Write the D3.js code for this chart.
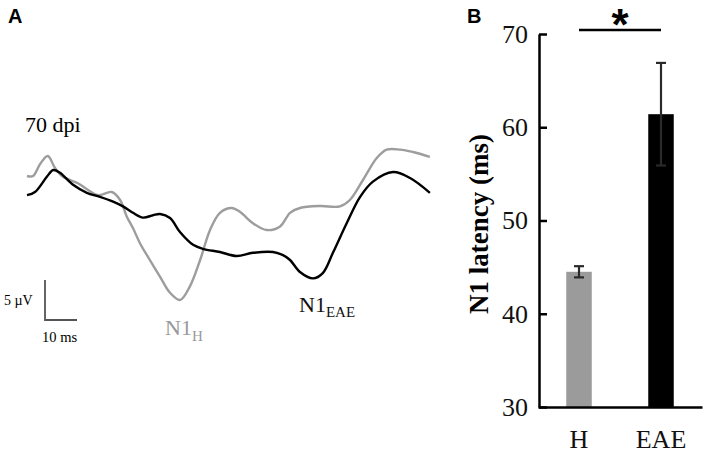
<!DOCTYPE html>
<html>
<head>
<meta charset="utf-8">
<script src="https://cdn.jsdelivr.net/npm/d3@7"></script>
<style>
  body { margin: 0; background: #fff; }
  svg { display: block; }
  .serif { font-family: "Liberation Serif", "Times New Roman", serif; }
</style>
</head>
<body>
<div id="chart"></div>
<script>
var width = 709;
var height = 454;

// Panel A: averaged VEP traces, [time (ms), amplitude (µV)]
var healthyTrace = [
  [0, 3.0], [1.9, 3.0], [4.1, 4.5], [6.5, 5.5], [8.75, 4.0], [11.25, 2.9],
  [15.9, 2.1], [19.1, 1.25], [22.2, 0.6], [26.5, 1.0], [29.1, 0], [31.2, -2.1],
  [33.1, -3.5], [35.3, -5.4], [38.4, -7.5], [41.6, -9.6], [44.7, -11.6],
  [47.8, -12.5], [50.9, -10.8], [54.1, -7.5], [57.2, -3.75], [60.3, -1.6],
  [64.0, -1.0], [66.6, -1.5], [70.6, -2.9], [74.9, -3.75], [79.1, -3.3],
  [82.2, -1.6], [85.3, -1.0], [91.6, -0.75], [97.8, -0.8], [100.9, 0],
  [105, 2.5], [109.3, 5.25], [112.4, 6.3], [116.6, 6.3], [120.6, 6.0], [125.9, 5.4]
];
var eaeTrace = [
  [0, 0.6], [2.5, 1.0], [6.2, 2.9], [8.2, 3.75], [10.3, 3.4], [14.4, 1.9],
  [18.7, 0.9], [22.8, 0.4], [26.9, -0.2], [30, -0.8], [33.1, -1.6], [36.25, -2.2],
  [39.4, -1.9], [41.6, -1.75], [44.7, -2.25], [47.8, -4.0], [51.9, -5.6],
  [55, -6.1], [60.3, -6.5], [65.5, -7.0], [70.6, -6.6], [76.9, -6.5], [80, -6.9],
  [82.2, -7.5], [85.3, -9.0], [89.4, -9.8], [92.5, -9.1], [95.6, -6.6],
  [99.9, -2.9], [104.1, 0.4], [108.1, 2.3], [114.4, 3.5], [119.7, 2.75], [125.9, 0.9]
];
var scaleBarMs = 10;
var scaleBarUv = 5;

// Panel B: N1 latency
var groups = ["H", "EAE"];
var latencyMean = [44.5, 61.4];
var latencyErr = [0.6, 5.5];
var latencyTicks = [30, 40, 50, 60, 70];

var svg = d3.select("#chart")
  .append("svg")
  .attr("width", width)
  .attr("height", height);

svg.append("rect")
  .attr("width", width)
  .attr("height", height)
  .attr("fill", "#fff");

// ---------- Panel A ----------
var xA = d3.scaleLinear().domain([0, 126]).range([27, 430.2]);
var yA = d3.scaleLinear().domain([-10, 10]).range([280, 120]);

var line = d3.line()
  .x(d => xA(d[0]))
  .y(d => yA(d[1]))
  .curve(d3.curveCatmullRom.alpha(0.5));

svg.append("path")
  .datum(healthyTrace)
  .attr("d", line)
  .attr("fill", "none")
  .attr("stroke", "#9d9d9d")
  .attr("stroke-width", 2.4);

svg.append("path")
  .datum(eaeTrace)
  .attr("d", line)
  .attr("fill", "none")
  .attr("stroke", "#000")
  .attr("stroke-width", 2.4);

svg.append("text")
  .attr("x", 8)
  .attr("y", 22.5)
  .attr("font-family", "Liberation Sans, Arial, sans-serif")
  .attr("font-weight", "bold")
  .attr("font-size", 20)
  .text("A");

svg.append("text")
  .attr("class", "serif")
  .attr("x", 25)
  .attr("y", 132)
  .attr("font-size", 22)
  .text("70 dpi");

// scale bar
var sbX = 45, sbY = 320;
var sbW = xA(scaleBarMs) - xA(0);
var sbH = yA(0) - yA(scaleBarUv);
svg.append("path")
  .attr("d", `M${sbX},${sbY - sbH}V${sbY}H${sbX + sbW}`)
  .attr("fill", "none")
  .attr("stroke", "#555")
  .attr("stroke-width", 1.8);

svg.append("text")
  .attr("class", "serif")
  .attr("x", 4)
  .attr("y", 305)
  .attr("font-size", 14)
  .text("5 \u00b5V");

svg.append("text")
  .attr("class", "serif")
  .attr("x", 42)
  .attr("y", 342)
  .attr("font-size", 14.5)
  .text("10 ms");

// peak labels
var n1h = svg.append("text")
  .attr("class", "serif")
  .attr("x", 165)
  .attr("y", 335)
  .attr("font-size", 22)
  .attr("fill", "#999");
n1h.append("tspan").text("N1");
n1h.append("tspan").attr("font-size", 15).attr("dy", 6).text("H");

var n1e = svg.append("text")
  .attr("class", "serif")
  .attr("x", 299)
  .attr("y", 311.5)
  .attr("font-size", 22)
  .attr("fill", "#111");
n1e.append("tspan").text("N1");
n1e.append("tspan").attr("font-size", 15).attr("dy", 5).text("EAE");

// ---------- Panel B ----------
var yB = d3.scaleLinear().domain([30, 70]).range([407, 34]);
var xB = d3.scaleBand()
  .domain(groups)
  .range([538, 702])
  .paddingInner(0.689)
  .paddingOuter(0.3445);

svg.append("text")
  .attr("x", 467)
  .attr("y", 22.5)
  .attr("font-family", "Liberation Sans, Arial, sans-serif")
  .attr("font-weight", "bold")
  .attr("font-size", 20)
  .text("B");

var barData = groups.map((g, i) => ({ g: g, mean: latencyMean[i], err: latencyErr[i] }));

svg.selectAll("rect.bar")
  .data(barData)
  .join("rect")
  .attr("class", "bar")
  .attr("x", d => xB(d.g))
  .attr("width", xB.bandwidth())
  .attr("y", d => yB(d.mean))
  .attr("height", d => yB(30) - yB(d.mean))
  .attr("fill", (d, i) => i === 0 ? "#9b9b9b" : "#000");

// error bars
var eb = svg.selectAll("g.err")
  .data(barData)
  .join("g")
  .attr("class", "err")
  .attr("transform", d => `translate(${xB(d.g) + xB.bandwidth() / 2},0)`)
  .attr("stroke", "#2a2a2a")
  .attr("stroke-width", 2.2);

eb.append("line")
  .attr("y1", d => yB(d.mean - d.err))
  .attr("y2", d => yB(d.mean + d.err));
eb.append("line")
  .attr("x1", -5).attr("x2", 5)
  .attr("y1", d => yB(d.mean + d.err))
  .attr("y2", d => yB(d.mean + d.err));
eb.append("line")
  .attr("x1", -5).attr("x2", 5)
  .attr("y1", d => yB(d.mean - d.err))
  .attr("y2", d => yB(d.mean - d.err));

// axes
var yAxis = svg.append("g")
  .attr("transform", "translate(539,0)")
  .call(d3.axisLeft(yB)
    .tickValues(latencyTicks)
    .tickSizeInner(-8)
    .tickSizeOuter(0)
    .tickPadding(11));
yAxis.select(".domain").attr("stroke-width", 2.5);
yAxis.selectAll(".tick line").attr("stroke-width", 2.5);
yAxis.selectAll("text")
  .attr("class", "serif")
  .attr("font-size", 26)
  .attr("fill", "#111");

var xAxis = svg.append("g")
  .attr("transform", "translate(0,407)")
  .call(d3.axisBottom(xB).tickSize(0).tickPadding(23));
xAxis.select(".domain").attr("stroke-width", 2.5);
xAxis.selectAll("text")
  .attr("class", "serif")
  .attr("font-size", 26)
  .attr("fill", "#111");

// y title
svg.append("text")
  .attr("class", "serif")
  .attr("transform", "translate(488,224) rotate(-90)")
  .attr("text-anchor", "middle")
  .attr("font-weight", "bold")
  .attr("font-size", 27)
  .text("N1 latency (ms)");

// significance
var sigY = yB(70) - 4;
svg.append("line")
  .attr("x1", xB("H") + xB.bandwidth() / 2)
  .attr("x2", xB("EAE") + xB.bandwidth() / 2)
  .attr("y1", sigY)
  .attr("y2", sigY)
  .attr("stroke", "#000")
  .attr("stroke-width", 2.5);

svg.append("text")
  .attr("x", (xB("H") + xB("EAE") + xB.bandwidth()) / 2)
  .attr("y", 40)
  .attr("text-anchor", "middle")
  .attr("font-family", "Liberation Sans, Arial, sans-serif")
  .attr("font-weight", "bold")
  .attr("font-size", 44)
  .text("*");
</script>
</body>
</html>
